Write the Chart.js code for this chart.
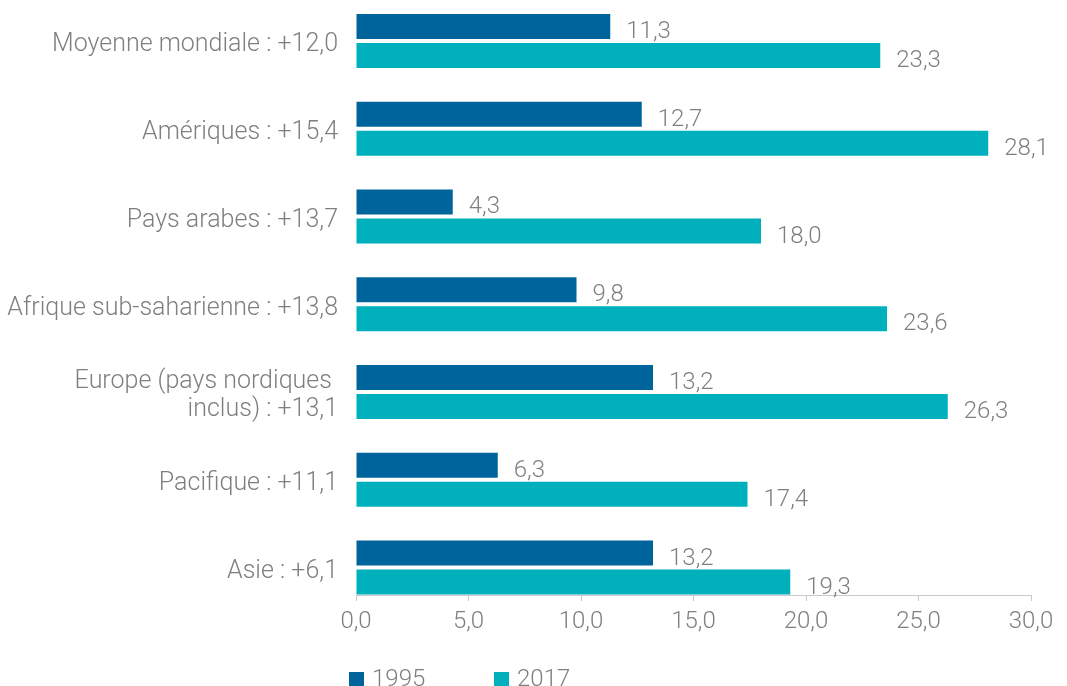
<!DOCTYPE html>
<html lang="fr">
<head>
<meta charset="utf-8">
<title>1995 / 2017</title>
<script src="https://cdn.jsdelivr.net/npm/chart.js@4/dist/chart.umd.min.js"></script>
<style>
    html, body { margin: 0; padding: 0; background: #ffffff; overflow: hidden; }
    #chart { display: block; }
</style>
</head>
<body>
<canvas id="chart" width="1067" height="686"></canvas>
<script>
// categories (top to bottom); "\n" marks a line break in the axis label
const categories = [
    'Moyenne mondiale : +12,0',
    'Amériques : +15,4',
    'Pays arabes : +13,7',
    'Afrique sub-saharienne : +13,8',
    'Europe (pays nordiques \ninclus) : +13,1',
    'Pacifique : +11,1',
    'Asie : +6,1'
];
const seriesNames = ['1995', '2017'];
const values1995 = [11.3, 12.7, 4.3, 9.8, 13.2, 6.3, 13.2];
const values2017 = [23.3, 28.1, 18.0, 23.6, 26.3, 17.4, 19.3];
const xTicks = [0, 5, 10, 15, 20, 25, 30];

const DARK = '#00649c';
const TEAL = '#00b0bc';
const GREY = '#7f7f7f';
const FONT = 'Roboto, "Helvetica Neue", Arial, sans-serif';

function fr(v) {
    return v.toFixed(1).replace('.', ',');
}

// value labels drawn just past the end of each bar
const valueLabels = {
    id: 'valueLabels',
    afterDatasetsDraw(chart) {
        const ctx = chart.ctx;
        ctx.save();
        ctx.font = '300 24px ' + FONT;
        ctx.fillStyle = GREY;
        ctx.textAlign = 'left';
        ctx.textBaseline = 'alphabetic';
        chart.data.datasets.forEach((ds, di) => {
            chart.getDatasetMeta(di).data.forEach((bar, i) => {
                const bottom = bar.y + bar.height / 2;
                ctx.fillText(fr(ds.data[i].x), bar.x + 16, bottom - 1);
            });
        });
        ctx.restore();
    }
};

// legend under the axis, left-aligned with the labels
const bottomLegend = {
    id: 'bottomLegend',
    afterDraw(chart) {
        const ctx = chart.ctx;
        const starts = [349, 494];
        ctx.save();
        ctx.font = '300 24px ' + FONT;
        ctx.textBaseline = 'alphabetic';
        chart.data.datasets.forEach((ds, di) => {
            ctx.fillStyle = ds.backgroundColor;
            ctx.fillRect(starts[di], 672, 15, 15);
            ctx.fillStyle = GREY;
            ctx.fillText(ds.label, starts[di] + 23, 686);
        });
        ctx.restore();
    }
};

function toPoints(arr) {
    return arr.map((v, i) => ({ x: v, y: i }));
}

new Chart(document.getElementById('chart').getContext('2d'), {
    type: 'bar',
    data: {
        datasets: [
            { label: seriesNames[0], data: toPoints(values1995), backgroundColor: DARK },
            { label: seriesNames[1], data: toPoints(values2017), backgroundColor: TEAL }
        ]
    },
    options: {
        indexAxis: 'y',
        responsive: false,
        animation: false,
        categoryPercentage: 0.661,
        barPercentage: 0.862,
        layout: { padding: { top: 0, right: 36, bottom: 0, left: 0 } },
        plugins: {
            legend: { display: false },
            tooltip: { enabled: false }
        },
        scales: {
            y: {
                type: 'linear',
                reverse: true,
                min: -0.467,
                max: 6.313,
                offset: false,
                grid: { display: false },
                border: { display: false },
                ticks: {
                    padding: 10,
                    labelOffset: 4,
                    color: GREY,
                    font: { family: FONT, size: 25, weight: '300', lineHeight: 1.12 },
                    callback: (v) => categories[v] !== undefined ? categories[v].split('\n') : ''
                },
                afterBuildTicks: (scale) => {
                    scale.ticks = categories.map((c, i) => ({ value: i }));
                },
                afterFit: (scale) => {
                    scale.width = 356;
                    scale.paddingTop = 0;
                    scale.paddingBottom = 0;
                }
            },
            x: {
                type: 'linear',
                min: 0,
                max: 30,
                grid: {
                    drawOnChartArea: false,
                    drawTicks: true,
                    tickLength: 6,
                    color: '#c9c9c9'
                },
                border: { display: true, color: '#c9c9c9', width: 1 },
                ticks: {
                    padding: 7,
                    color: GREY,
                    font: { family: FONT, size: 24, weight: '300' },
                    callback: (v) => fr(v)
                },
                afterBuildTicks: (scale) => {
                    scale.ticks = xTicks.map((v) => ({ value: v }));
                },
                afterFit: (scale) => {
                    scale.height = 91;
                }
            }
        }
    },
    plugins: [valueLabels, bottomLegend]
});
</script>
</body>
</html>
